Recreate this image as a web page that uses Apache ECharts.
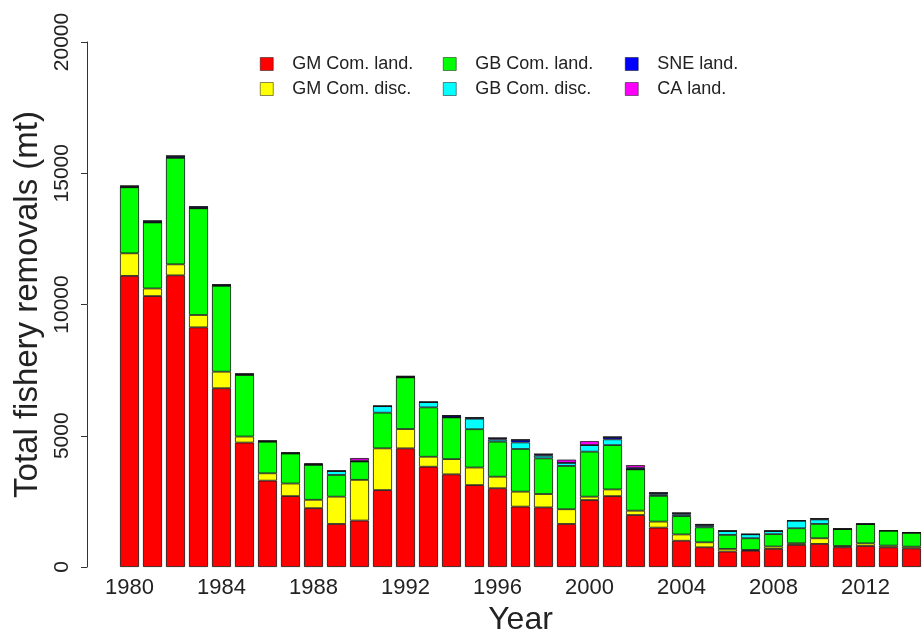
<!DOCTYPE html>
<html>
<head>
<meta charset="utf-8">
<title>Total fishery removals</title>
<script src="https://cdn.jsdelivr.net/npm/echarts@6/dist/echarts.min.js"></script>
<style>
  html, body { margin: 0; padding: 0; background: #fff; }
  #main { width: 923px; height: 632px; }
</style>
</head>
<body>
<div id="main"></div>
<script>
// years on the x axis
const years = []
for (let y = 1980; y <= 2014; y++) years.push(String(y))

// removals (mt)
const gmLand = [11090, 10320, 11110, 9130, 6810, 4740, 3290, 2700, 2240, 1640, 1770, 2930, 4520, 3820, 3530, 3120, 3000, 2300, 2270, 1640, 2550, 2700, 1980, 1500, 1000, 750, 590, 620, 690, 840, 880, 750, 800, 750, 710]
const gmDisc = [860, 290, 420, 470, 630, 230, 280, 480, 320, 1040, 1550, 1590, 735, 380, 580, 670, 440, 570, 510, 560, 130, 255, 165, 230, 240, 190, 100, 30, 90, 65, 215, 50, 100, 65, 65]
const gbLand = [2515, 2515, 4060, 4065, 3276, 2349, 1205, 1143, 1334, 826, 700, 1358, 1969, 1881, 1588, 1459, 1334, 1626, 1359, 1650, 1714, 1688, 1575, 978, 698, 571, 533, 446, 472, 571, 546, 648, 736, 571, 533]
const gbDisc = [0, 0, 0, 0, 0, 0, 0, 0, 0, 150, 0, 250, 0, 200, 0, 400, 80, 250, 100, 120, 250, 220, 0, 60, 60, 60, 150, 150, 120, 290, 170, 0, 0, 0, 0]
const sneLand = [50, 60, 70, 60, 40, 40, 30, 30, 20, 0, 30, 0, 40, 0, 70, 40, 60, 100, 60, 0, 0, 90, 60, 60, 60, 50, 0, 0, 0, 0, 30, 0, 0, 0, 0]
const caLand = [0, 0, 0, 0, 0, 0, 0, 0, 40, 0, 100, 0, 0, 0, 0, 0, 0, 0, 0, 120, 150, 0, 100, 0, 0, 0, 0, 0, 0, 0, 0, 0, 0, 0, 0]

const yTicks = [0, 5000, 10000, 15000, 20000]

const font = '"Liberation Sans", Arial, sans-serif'

// one stacked series per source
const seriesDefs = [
  { name: 'GM Com. land.', data: gmLand, color: '#ff0000' },
  { name: 'GM Com. disc.', data: gmDisc, color: '#ffff00' },
  { name: 'GB Com. land.', data: gbLand, color: '#00ff00' },
  { name: 'GB Com. disc.', data: gbDisc, color: '#00ffff' },
  { name: 'SNE land.', data: sneLand, color: '#0000ff' },
  { name: 'CA land.', data: caLand, color: '#ff00ff' }
]

const getSeries = () => seriesDefs.map((s) => ({
  name: s.name,
  type: 'bar',
  stack: 'total',
  barWidth: 19,
  data: s.data,
  itemStyle: { color: s.color, borderColor: '#111', borderWidth: 0.8 },
  emphasis: { disabled: true }
}))

// legend: three columns, two rows each
const legendCol = (left, names) => ({
  orient: 'vertical',
  left: left,
  top: 50,
  itemWidth: 13,
  itemHeight: 13,
  itemGap: 7,
  icon: 'rect',
  data: names,
  itemStyle: { borderWidth: 0.5 },
  textStyle: { fontFamily: font, fontSize: 18, color: '#222', padding: [0, 0, 0, 14] }
})

const chart = echarts.init(document.getElementById('main'))
chart.setOption({
  animation: false,
  backgroundColor: '#fff',
  color: seriesDefs.map((s) => s.color),
  legend: [
    legendCol(255, ['GM Com. land.', 'GM Com. disc.']),
    legendCol(438, ['GB Com. land.', 'GB Com. disc.']),
    legendCol(620, ['SNE land.', 'CA land.'])
  ],
  // fixed plot box, no auto shrinking for labels
  grid: { left: 118, right: 0, top: 42, bottom: 65, outerBoundsMode: 'none', containLabel: false },
  xAxis: {
    type: 'category',
    data: years,
    name: 'Year',
    nameLocation: 'middle',
    nameGap: 31,
    nameTextStyle: { fontFamily: font, fontSize: 32, color: '#222' },
    axisLine: { show: false },
    axisTick: { show: false },
    axisLabel: { interval: 3, margin: 10, fontFamily: font, fontSize: 22, color: '#222' }
  },
  yAxis: {
    type: 'value',
    min: yTicks[0],
    max: yTicks[yTicks.length - 1],
    interval: 5000,
    offset: 31,
    name: 'Total fishery removals (mt)',
    nameLocation: 'middle',
    nameRotate: 90,
    nameGap: 43,
    nameTextStyle: { fontFamily: font, fontSize: 33, color: '#222' },
    axisLine: { show: true, lineStyle: { color: '#333', width: 1 } },
    axisTick: { show: true, length: 6, lineStyle: { color: '#333' } },
    axisLabel: { rotate: 90, margin: 14, fontFamily: font, fontSize: 21, color: '#222', formatter: (v) => String(v) },
    splitLine: { show: false }
  },
  series: getSeries()
})
</script>
</body>
</html>
